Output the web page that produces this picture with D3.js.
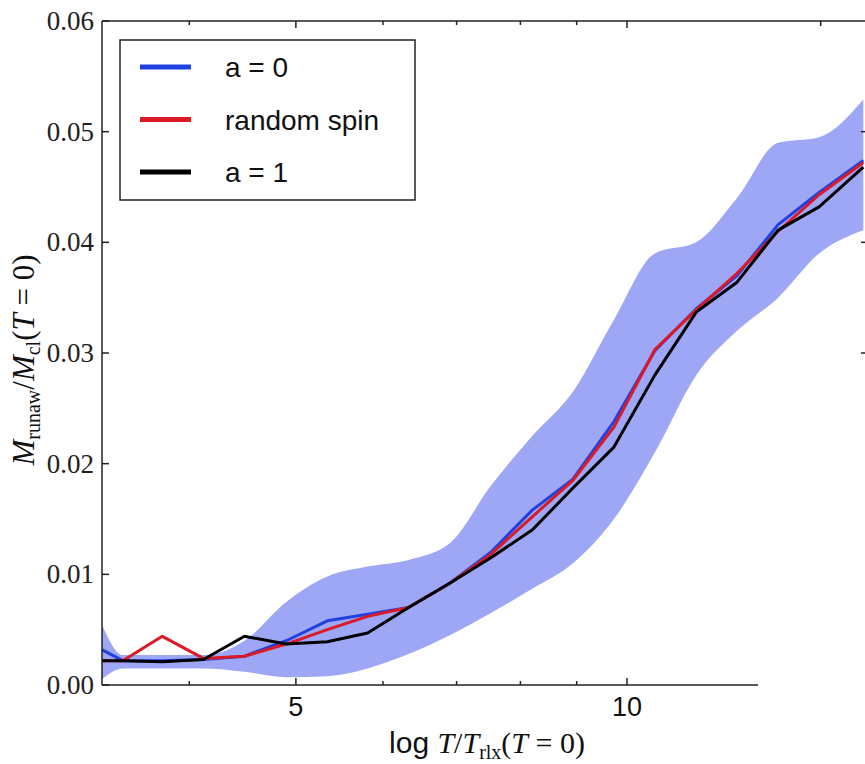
<!DOCTYPE html>
<html><head><meta charset="utf-8">
<script src="https://cdn.jsdelivr.net/npm/d3@7"></script>
<style>body{margin:0;background:#fff}svg{display:block}</style>
</head><body>
<svg id="c" width="865" height="764"></svg>
<script>
// Data (x on a log axis: T / T_rlx)
const xValues   = [3.33, 3.48, 3.78, 4.12, 4.49, 4.90, 5.34, 5.81, 6.33, 6.90, 7.52, 8.20, 8.93, 9.73, 10.6, 11.56, 12.59, 13.72, 14.95, 16.4];
const spinZero  = [0.0032,0.0022,0.0022,0.0023,0.0026,0.0040,0.0058,0.0064,0.0070,0.0092,0.0120,0.0158,0.0186,0.0238,0.0302,0.0340,0.0370,0.0416,0.0445,0.0474];
const randomSpin= [0.0022,0.0022,0.0044,0.0024,0.0026,0.0037,0.0050,0.0062,0.0070,0.0092,0.0118,0.0152,0.0185,0.0233,0.0303,0.0339,0.0372,0.0410,0.0443,0.0472];
const spinOne   = [0.0022,0.0022,0.0021,0.0023,0.0044,0.0037,0.0039,0.0047,0.0070,0.0092,0.0115,0.0140,0.0178,0.0215,0.0280,0.0337,0.0364,0.0411,0.0432,0.0468];
const bandUpper = [0.0055,0.0027,0.0027,0.0027,0.0040,0.0075,0.0098,0.0107,0.0113,0.0128,0.0180,0.0225,0.0265,0.0330,0.0390,0.0400,0.0440,0.0490,0.0495,0.0529];
const bandLower = [0.0005,0.0015,0.0015,0.0015,0.0012,0.0007,0.0008,0.0015,0.0028,0.0045,0.0065,0.0087,0.0110,0.0150,0.0210,0.0280,0.0320,0.0350,0.0390,0.0411];
const yTicks = [0, 0.01, 0.02, 0.03, 0.04, 0.05, 0.06];
const yTickLabels = ["0.00","0.01","0.02","0.03","0.04","0.05","0.06"];
const xMajorTicks = [5, 10];
const xMinorTicks = [4, 6, 7, 8, 9];
const topExtraTicks = [15];
const seriesNames = ["a = 0", "random spin", "a = 1"];
const seriesColors = ["#2140e0", "#dc1a26", "#000000"];

const svg = d3.select("#c");
const L = 102, T = 21, B = 685, R = 865, bottomEnd = 758;
const x = d3.scaleLog().domain([3.332, 10]).range([L, 627]);
const y = d3.scaleLinear().domain([0, 0.06]).range([B, T]);

svg.append("defs").append("clipPath").attr("id","clip")
  .append("rect").attr("x",L).attr("y",T).attr("width",R-L).attr("height",B-T);
const plot = svg.append("g").attr("clip-path","url(#clip)");

const idx = d3.range(xValues.length);
plot.append("path")
  .attr("d", d3.area().curve(d3.curveMonotoneX).x(i=>x(xValues[i])).y0(i=>y(bandLower[i])).y1(i=>y(bandUpper[i]))(idx))
  .attr("fill","#9da7f6").attr("stroke","none");

[spinZero, randomSpin, spinOne].forEach((s,k)=>{
  plot.append("path")
    .attr("d", d3.line().x(i=>x(xValues[i])).y(i=>y(s[i]))(idx))
    .attr("fill","none").attr("stroke",seriesColors[k]).attr("stroke-width",3)
    .attr("stroke-linejoin","round");
});

// spines
const ax = svg.append("g").attr("stroke","#222").attr("stroke-width",1.5).attr("fill","none");
ax.append("line").attr("x1",L).attr("x2",L).attr("y1",T).attr("y2",B);
ax.append("line").attr("x1",L).attr("x2",R).attr("y1",T).attr("y2",T);
ax.append("line").attr("x1",L).attr("x2",bottomEnd).attr("y1",B).attr("y2",B);

// y ticks
yTicks.forEach((v,i)=>{
  ax.append("line").attr("x1",L).attr("x2",L+7).attr("y1",y(v)).attr("y2",y(v));
  svg.append("text").attr("x",94).attr("y",y(v)+9).attr("text-anchor","end")
    .attr("font-family","Liberation Serif, DejaVu Serif, serif").attr("font-size",27)
    .attr("fill","#222").text(yTickLabels[i]);
});
// right-side ticks of adjacent panel
[0.03,0.04,0.05].forEach(v=>{
  ax.append("line").attr("x1",861).attr("x2",865).attr("y1",y(v)).attr("y2",y(v));
});
// x ticks
xMajorTicks.forEach(v=>{
  ax.append("line").attr("x1",x(v)).attr("x2",x(v)).attr("y1",B).attr("y2",B-7);
  ax.append("line").attr("x1",x(v)).attr("x2",x(v)).attr("y1",T).attr("y2",T+7);
  svg.append("text").attr("x",x(v)).attr("y",716).attr("text-anchor","middle")
    .attr("font-family","Liberation Sans, Arial, sans-serif").attr("font-size",27)
    .attr("fill","#111").text(v);
});
xMinorTicks.forEach(v=>{
  ax.append("line").attr("x1",x(v)).attr("x2",x(v)).attr("y1",B).attr("y2",B-4);
  ax.append("line").attr("x1",x(v)).attr("x2",x(v)).attr("y1",T).attr("y2",T+4);
});
topExtraTicks.forEach(v=>{
  ax.append("line").attr("x1",x(v)).attr("x2",x(v)).attr("y1",T).attr("y2",T+5);
});

// axis labels
const xl = svg.append("text").attr("x",487).attr("y",753).attr("text-anchor","middle")
  .attr("font-size",30).attr("fill","#111").attr("font-family","Liberation Serif, serif");
xl.append("tspan").attr("font-family","Liberation Sans, sans-serif").text("log ");
xl.append("tspan").attr("font-style","italic").text("T");
xl.append("tspan").text("/");
xl.append("tspan").attr("font-style","italic").text("T");
xl.append("tspan").attr("font-size",20).attr("dy",6).text("rlx");
xl.append("tspan").attr("dy",-6).text("(");
xl.append("tspan").attr("font-style","italic").text("T");
xl.append("tspan").text(" = 0)");

const yl = svg.append("text").attr("transform","translate(34,360) rotate(-90)").attr("text-anchor","middle")
  .attr("font-size",31).attr("fill","#111").attr("font-family","Liberation Serif, serif");
yl.append("tspan").attr("font-style","italic").text("M");
yl.append("tspan").attr("font-size",20).attr("dy",6).text("runaw");
yl.append("tspan").attr("dy",-6).text("/");
yl.append("tspan").attr("font-style","italic").text("M");
yl.append("tspan").attr("font-size",20).attr("dy",6).text("cl");
yl.append("tspan").attr("dy",-6).text("(");
yl.append("tspan").attr("font-style","italic").text("T");
yl.append("tspan").text(" = 0)");

// legend
const lg = svg.append("g");
lg.append("rect").attr("x",120).attr("y",40).attr("width",295).attr("height",160)
  .attr("fill","#fff").attr("stroke","#222").attr("stroke-width",1.5);
seriesNames.forEach((n,i)=>{
  const yy = 67 + i*52.5;
  lg.append("line").attr("x1",140).attr("x2",191).attr("y1",yy).attr("y2",yy)
    .attr("stroke",seriesColors[i]).attr("stroke-width",5);
  lg.append("text").attr("x",225).attr("y",yy+10).attr("font-family","Liberation Sans, Arial, sans-serif")
    .attr("font-size",28).attr("fill","#111").text(n);
});
</script>
</body></html>
